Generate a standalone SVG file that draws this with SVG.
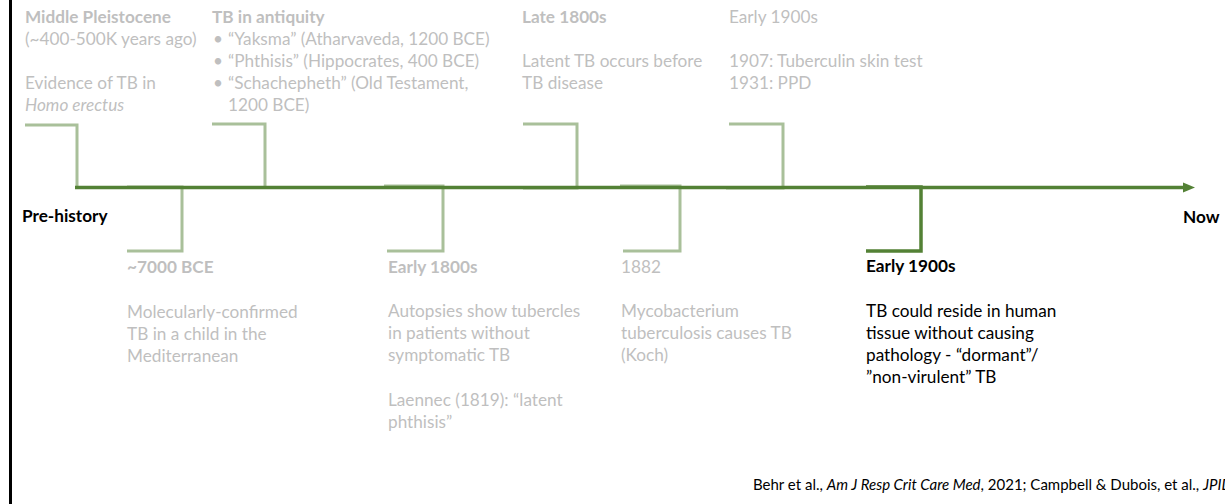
<svg xmlns="http://www.w3.org/2000/svg" width="1225" height="504" viewBox="0 0 1225 504">
<style>
text{font-family:Lato,"Open Sans","Liberation Sans",sans-serif;font-size:17.2px}
.g{fill:#BFBFBF}
.k{fill:#000}
.b{font-weight:bold}
.i{font-style:italic}
.lt{fill:none;stroke:#538135;stroke-opacity:0.5;stroke-width:3}
.dk{fill:none;stroke:#538135;stroke-width:3.5}
.ft{font-size:15px;fill:#000}
</style>
<rect width="1225" height="504" fill="#fff"/>
<line x1="10.5" y1="0" x2="10.5" y2="504" stroke="#000" stroke-width="3"/>
<g id="connectors">
<polyline class="lt" points="25,125 77,125 77,187"/>
<polyline class="lt" points="212,124 265,124 265,187"/>
<polyline class="lt" points="523,124 577,124 577,188 523,188"/>
<polyline class="lt" points="729,124 783,124 783,188 726,188"/>
<polyline class="lt" points="127,187 182,187 182,251 127,251"/>
<polyline class="lt" points="384,186 443,186 443,251 387,251"/>
<polyline class="lt" points="620,186 680,186 680,251 623,251"/>
<line class="dk" x1="75" y1="187.5" x2="1185" y2="187.5"/>
<polygon points="1183,182.5 1195,187.5 1183,192.5" fill="#538135"/>
<polyline class="dk" points="866,187 921,187 921,251 866,251"/>
</g>
<g id="prehistory"><text class="k b" x="22" y="222">Pre-history</text></g>
<g id="now"><text class="k b" x="1183" y="223">Now</text></g>
<g id="middle-pleistocene">
<text class="g b" x="25" y="23">Middle Pleistocene</text>
<text class="g" x="25" y="45">(~400-500K years ago)</text>
<text class="g" x="25" y="89">Evidence of TB in</text>
<text class="g i" x="25" y="111">Homo erectus</text>
</g>
<g id="antiquity">
<text class="g b" x="212" y="23">TB in antiquity</text>
<text class="g" x="213" y="45">•</text><text class="g" x="228" y="45">“Yaksma” (Atharvaveda, 1200 BCE)</text>
<text class="g" x="213" y="67">•</text><text class="g" x="228" y="67">“Phthisis” (Hippocrates, 400 BCE)</text>
<text class="g" x="213" y="89">•</text><text class="g" x="228" y="89">“Schachepheth” (Old Testament,</text>
<text class="g" x="228" y="111">1200 BCE)</text>
</g>
<g id="late-1800s">
<text class="g b" x="522" y="23">Late 1800s</text>
<text class="g" x="522" y="67">Latent TB occurs before</text>
<text class="g" x="522" y="89">TB disease</text>
</g>
<g id="early-1900s-top">
<text class="g" x="729" y="23">Early 1900s</text>
<text class="g" x="729" y="67">1907: Tuberculin skin test</text>
<text class="g" x="729" y="89">1931: PPD</text>
</g>
<g id="bce-7000">
<text class="g b" x="127" y="273">~7000 BCE</text>
<text class="g" x="127" y="318">Molecularly-confirmed</text>
<text class="g" x="127" y="340">TB in a child in the</text>
<text class="g" x="127" y="362">Mediterranean</text>
</g>
<g id="early-1800s">
<text class="g b" x="388" y="273">Early 1800s</text>
<text class="g" x="388" y="317">Autopsies show tubercles</text>
<text class="g" x="388" y="339">in patients without</text>
<text class="g" x="388" y="361">symptomatic TB</text>
<text class="g" x="388" y="406">Laennec (1819): “latent</text>
<text class="g" x="388" y="428">phthisis”</text>
</g>
<g id="y1882">
<text class="g" x="621" y="273">1882</text>
<text class="g" x="621" y="317">Mycobacterium</text>
<text class="g" x="621" y="339">tuberculosis causes TB</text>
<text class="g" x="621" y="361">(Koch)</text>
</g>
<g id="early-1900s-bottom">
<text class="k b" x="866" y="272">Early 1900s</text>
<text class="k" x="866" y="317">TB could reside in human</text>
<text class="k" x="866" y="339">tissue without causing</text>
<text class="k" x="866" y="361">pathology - “dormant”/</text>
<text class="k" x="866" y="383">”non-virulent” TB</text>
</g>
<g id="footer">
<text class="ft" x="753" y="490">Behr et al., <tspan class="i">Am J Resp Crit Care Med</tspan>, 2021; Campbell &amp; Dubois, et al., <tspan class="i">JPID</tspan></text>
</g>
</svg>
